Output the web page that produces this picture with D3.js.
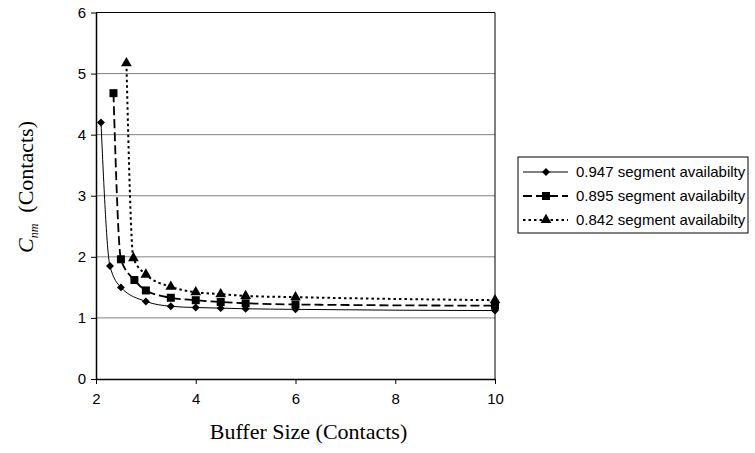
<!DOCTYPE html>
<html>
<head>
<meta charset="utf-8">
<script src="https://cdn.jsdelivr.net/npm/d3@7"></script>
<style>
  body { margin: 0; background: #fff; }
  svg { display: block; }
</style>
</head>
<body>
<div id="chart"></div>
<script>
// values
const seriesNames = [
  '0.947 segment availabilty',
  '0.895 segment availabilty',
  '0.842 segment availabilty'
]
const x947 = [2.1, 2.28, 2.5, 3, 3.5, 4, 4.5, 5, 6, 10]
const y947 = [4.2, 1.85, 1.5, 1.27, 1.19, 1.17, 1.16, 1.15, 1.14, 1.12]
const x895 = [2.35, 2.5, 2.77, 3, 3.5, 4, 4.5, 5, 6, 10]
const y895 = [4.68, 1.96, 1.62, 1.45, 1.33, 1.29, 1.26, 1.24, 1.22, 1.2]
const x842 = [2.61, 2.75, 3, 3.5, 4, 4.5, 5, 6, 10]
const y842 = [5.17, 1.98, 1.71, 1.51, 1.42, 1.39, 1.36, 1.34, 1.29]
const xTicks = [2, 4, 6, 8, 10]
const yTicks = [0, 1, 2, 3, 4, 5, 6]

const width = 755
const height = 453
const plot = { left: 96, right: 495, top: 12.5, bottom: 379 }

const svg = d3.select('#chart').append('svg')
  .attr('width', width)
  .attr('height', height)

svg.append('rect').attr('width', width).attr('height', height).attr('fill', '#fff')

const x = d3.scaleLinear().domain([2, 10]).range([plot.left, plot.right])
const y = d3.scaleLinear().domain([0, 6]).range([plot.bottom, plot.top])

// gridlines
svg.append('g')
  .selectAll('line')
  .data(yTicks.filter(v => v > 0 && v < 6))
  .join('line')
  .attr('x1', plot.left).attr('x2', plot.right)
  .attr('y1', d => y(d)).attr('y2', d => y(d))
  .attr('stroke', '#808080')
  .attr('stroke-width', 1)

// plot border (top and right)
svg.append('path')
  .attr('d', `M${plot.left},${plot.top}H${plot.right}V${plot.bottom}`)
  .attr('fill', 'none')
  .attr('stroke', '#000')
  .attr('stroke-width', 1)

const tickFont = '"Liberation Sans", Arial, sans-serif'

const xAxis = svg.append('g')
  .attr('transform', `translate(0,${plot.bottom})`)
  .call(d3.axisBottom(x).tickValues(xTicks).tickFormat(d3.format('d'))
    .tickSize(5).tickPadding(9).tickSizeOuter(0))
const yAxis = svg.append('g')
  .attr('transform', `translate(${plot.left},0)`)
  .call(d3.axisLeft(y).tickValues(yTicks).tickFormat(d3.format('d'))
    .tickSize(5).tickPadding(5).tickSizeOuter(0))

;[xAxis, yAxis].forEach(ax => {
  ax.select('.domain').attr('stroke', '#000').attr('stroke-width', 1.5)
  ax.selectAll('.tick line').attr('stroke', '#000')
  ax.selectAll('.tick text')
    .attr('fill', '#000')
    .style('font-family', tickFont)
    .style('font-size', '15px')
})

// series
const series = [
  { name: seriesNames[0], xs: x947, ys: y947, dash: null, width: 1, marker: d3.symbolDiamond2, size: 40 },
  { name: seriesNames[1], xs: x895, ys: y895, dash: '9,4', width: 1.8, marker: d3.symbolSquare, size: 64 },
  { name: seriesNames[2], xs: x842, ys: y842, dash: '2.5,3', width: 2, marker: d3.symbolTriangle, size: 50 }
]

const line = d3.line()
  .x(d => x(d[0]))
  .y(d => y(d[1]))
  .curve(d3.curveMonotoneX)

series.forEach(s => {
  const pts = s.xs.map((v, i) => [v, s.ys[i]])
  svg.append('path')
    .datum(pts)
    .attr('d', line)
    .attr('fill', 'none')
    .attr('stroke', '#000')
    .attr('stroke-width', s.width)
    .attr('stroke-dasharray', s.dash)

  svg.append('g')
    .selectAll('path')
    .data(pts)
    .join('path')
    .attr('transform', d => `translate(${x(d[0])},${y(d[1])})`)
    .attr('d', d3.symbol().type(s.marker).size(s.size))
    .attr('fill', '#000')
})

// legend
const legend = svg.append('g').attr('transform', 'translate(518,157)')
legend.append('rect')
  .attr('width', 230).attr('height', 76)
  .attr('fill', '#fff')
  .attr('stroke', '#000')
  .attr('stroke-width', 1)

series.forEach((s, i) => {
  const row = legend.append('g').attr('transform', `translate(0,${15 + i * 24})`)
  row.append('line')
    .attr('x1', 5).attr('x2', 50)
    .attr('stroke', '#000')
    .attr('stroke-width', s.width)
    .attr('stroke-dasharray', s.dash)
  row.append('path')
    .attr('transform', 'translate(28,0)')
    .attr('d', d3.symbol().type(s.marker).size(s.size))
    .attr('fill', '#000')
  row.append('text')
    .attr('x', 58)
    .attr('dy', '0.35em')
    .style('font-family', tickFont)
    .style('font-size', '15px')
    .text(s.name)
})

// axis titles
const titleFont = '"Liberation Serif", "Times New Roman", serif'

svg.append('text')
  .attr('x', (plot.left + plot.right) / 2 + 13)
  .attr('y', 439)
  .attr('text-anchor', 'middle')
  .style('font-family', titleFont)
  .style('font-size', '22px')
  .text('Buffer Size (Contacts)')

const yTitle = svg.append('text')
  .attr('transform', 'translate(33,253) rotate(-90)')
  .style('font-family', titleFont)
  .style('font-size', '22px')
yTitle.append('tspan').style('font-style', 'italic').text('C')
yTitle.append('tspan')
  .style('font-style', 'italic')
  .style('font-size', '12px')
  .attr('dy', 5)
  .text('nm')
yTitle.append('tspan').attr('dy', -5).text('\u00a0\u00a0(Contacts)')
</script>
</body>
</html>
